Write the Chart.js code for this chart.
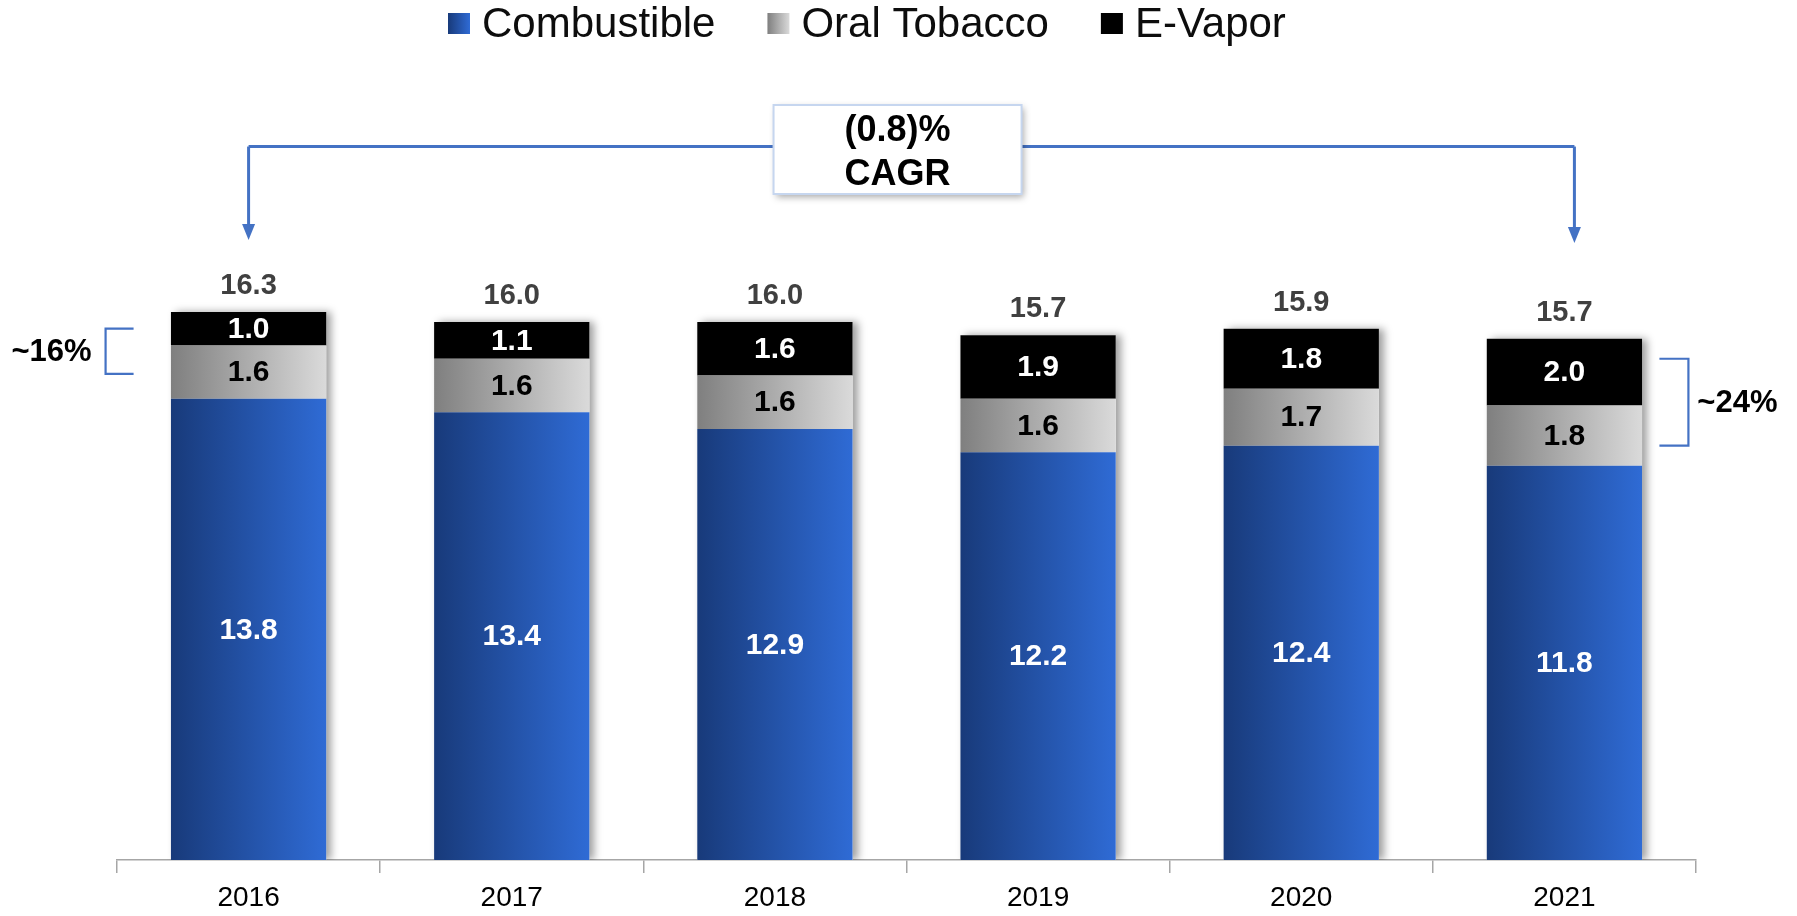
<!DOCTYPE html>
<html>
<head>
<meta charset="utf-8">
<script src="https://cdn.jsdelivr.net/npm/chart.js@4.4.0/dist/chart.umd.min.js"></script>
<style>
  html, body { margin: 0; padding: 0; background: #fff; }
  #wrap { width: 1797px; height: 916px; }
</style>
</head>
<body>
<div id="wrap"><canvas id="shipments"></canvas></div>
<script>
// volumes by year, billions
const years = ['2016', '2017', '2018', '2019', '2020', '2021'];
const combustible = [13.8, 13.4, 12.9, 12.2, 12.4, 11.8];
const oralTobacco = [1.6, 1.6, 1.6, 1.6, 1.7, 1.8];
const eVapor = [1.0, 1.1, 1.6, 1.9, 1.8, 2.0];
const totals = [16.3, 16.0, 16.0, 15.7, 15.9, 15.7];
const seriesNames = ['Combustible', 'Oral Tobacco', 'E-Vapor'];
const cagrText = ['(0.8)%', 'CAGR'];
const shareLabels = ['~16%', '~24%'];

const FONT = "'Liberation Sans', Arial, Helvetica, sans-serif";
const LINE_BLUE = '#4472c4';
const BAR_PCT = 0.59;

const blueStops = [[0, '#183a7a'], [1, '#2f6bd5']];
const greyStops = [[0, '#7f7f7f'], [1, '#dadada']];
const blackStops = [[0, '#000000'], [1, '#000000']];

function hGradient(ctx, left, right, stops) {
  const g = ctx.createLinearGradient(left, 0, right, 0);
  stops.forEach(([o, c]) => g.addColorStop(o, c));
  return g;
}

// gradient running across each bar, left to right
function barFill(stops) {
  return (c) => {
    const x = c.chart.scales.x;
    if (!x || c.dataIndex === undefined) return stops[1][1];
    const cx = x.getPixelForValue(c.dataIndex);
    const half = x.width / years.length * BAR_PCT / 2;
    if (!Number.isFinite(cx) || !Number.isFinite(half) || half <= 0) return stops[1][1];
    return hGradient(c.chart.ctx, cx - half, cx + half, stops);
  };
}

// soft shadow behind every full stack
const barShadow = {
  id: 'barShadow',
  beforeDatasetsDraw(chart) {
    const {ctx, chartArea} = chart;
    const first = chart.getDatasetMeta(0).data;
    const last = chart.getDatasetMeta(chart.data.datasets.length - 1).data;
    ctx.save();
    ctx.beginPath();
    ctx.rect(0, 0, chart.width, chartArea.bottom);
    ctx.clip();
    ctx.shadowColor = 'rgba(0,0,0,0.38)';
    ctx.shadowBlur = 8;
    ctx.shadowOffsetX = 5;
    ctx.shadowOffsetY = 0;
    ctx.fillStyle = '#fff';
    first.forEach((bar, i) => {
      const w = bar.width;
      ctx.fillRect(bar.x - w / 2, last[i].y, w, bar.base - last[i].y);
    });
    ctx.restore();
  }
};

// numbers inside segments and totals on top
const valueLabels = {
  id: 'valueLabels',
  afterDatasetsDraw(chart) {
    const ctx = chart.ctx;
    ctx.save();
    ctx.textAlign = 'center';
    ctx.textBaseline = 'middle';
    ctx.font = `bold 30px ${FONT}`;
    chart.data.datasets.forEach((ds, di) => {
      chart.getDatasetMeta(di).data.forEach((bar, i) => {
        const {x, y, base} = bar.getProps(['x', 'y', 'base'], true);
        ctx.fillStyle = ds.labelColor;
        ctx.fillText(ds.data[i].toFixed(1), x, (y + base) / 2 + 1);
      });
    });
    const top = chart.getDatasetMeta(chart.data.datasets.length - 1).data;
    ctx.font = `bold 29px ${FONT}`;
    ctx.fillStyle = '#404040';
    top.forEach((bar, i) => ctx.fillText(totals[i].toFixed(1), bar.x, bar.y - 26));
    ctx.restore();
  }
};

// legend row across the top
const legendRow = {
  id: 'legendRow',
  afterDraw(chart) {
    const ctx = chart.ctx;
    ctx.save();
    ctx.font = `42px ${FONT}`;
    ctx.textBaseline = 'alphabetic';
    ctx.textAlign = 'left';
    let x = 448;
    chart.data.datasets.forEach((ds) => {
      ctx.fillStyle = hGradient(ctx, x, x + 22, ds.swatch);
      ctx.fillRect(x, 13, 22, 21);
      ctx.fillStyle = '#0d0d0d';
      ctx.fillText(ds.label, x + 34, 37);
      x += 34 + ctx.measureText(ds.label).width + 52;
    });
    ctx.restore();
  }
};

function arrowDown(ctx, x, y0, y1) {
  ctx.beginPath();
  ctx.moveTo(x, y0);
  ctx.lineTo(x, y1 - 14);
  ctx.stroke();
  ctx.beginPath();
  ctx.moveTo(x - 6.5, y1 - 16);
  ctx.lineTo(x + 6.5, y1 - 16);
  ctx.lineTo(x, y1);
  ctx.closePath();
  ctx.fill();
}

// CAGR connector and share brackets
const callouts = {
  id: 'callouts',
  afterDraw(chart) {
    const {ctx} = chart;
    const xs = chart.scales.x, ys = chart.scales.y;
    const lineY = ys.getPixelForValue(21.35);
    const tipY = ys.getPixelForValue(18.55);
    const xL = xs.getPixelForValue(0);
    const xR = xs.getPixelForValue(years.length - 1) + 10;

    ctx.save();
    ctx.strokeStyle = LINE_BLUE;
    ctx.fillStyle = LINE_BLUE;
    ctx.lineWidth = 3;
    ctx.beginPath();
    ctx.moveTo(xL, lineY);
    ctx.lineTo(xR, lineY);
    ctx.stroke();
    arrowDown(ctx, xL, lineY, tipY);
    arrowDown(ctx, xR, lineY, tipY + 3);

    // CAGR box
    const bx = xs.getPixelForValue(2.466);
    const bw = 248, bh = 89, by = 105;
    ctx.save();
    ctx.shadowColor = 'rgba(0,0,0,0.35)';
    ctx.shadowBlur = 7;
    ctx.shadowOffsetX = 2;
    ctx.shadowOffsetY = 3;
    ctx.fillStyle = '#fff';
    ctx.fillRect(bx - bw / 2, by, bw, bh);
    ctx.restore();
    ctx.strokeStyle = '#c6d6ef';
    ctx.lineWidth = 2;
    ctx.strokeRect(bx - bw / 2, by, bw, bh);
    ctx.fillStyle = '#000';
    ctx.textAlign = 'center';
    ctx.textBaseline = 'middle';
    ctx.font = `bold 36px ${FONT}`;
    ctx.fillText(cagrText[0], bx, by + 26);
    ctx.fillText(cagrText[1], bx, by + 70);

    // brackets
    ctx.strokeStyle = LINE_BLUE;
    ctx.lineWidth = 2.2;
    const lt = ys.getPixelForValue(15.9), lb = ys.getPixelForValue(14.55);
    const lx = xs.getPixelForValue(0) - 143;
    ctx.beginPath();
    ctx.moveTo(lx + 28, lt);
    ctx.lineTo(lx, lt);
    ctx.lineTo(lx, lb);
    ctx.lineTo(lx + 28, lb);
    ctx.stroke();
    const rt = ys.getPixelForValue(15.0), rb = ys.getPixelForValue(12.4);
    const rx = xs.getPixelForValue(years.length - 1) + 124;
    ctx.beginPath();
    ctx.moveTo(rx - 29, rt);
    ctx.lineTo(rx, rt);
    ctx.lineTo(rx, rb);
    ctx.lineTo(rx - 29, rb);
    ctx.stroke();

    ctx.font = `bold 31px ${FONT}`;
    ctx.fillStyle = '#000';
    ctx.fillText(shareLabels[0], lx - 54, (lt + lb) / 2 + 1);
    ctx.fillText(shareLabels[1], rx + 49, (rt + rb) / 2 + 1);
    ctx.restore();
  }
};

new Chart(document.getElementById('shipments'), {
  type: 'bar',
  data: {
    labels: years,
    datasets: [
      { label: seriesNames[0], data: combustible, backgroundColor: barFill(blueStops), swatch: blueStops, labelColor: '#ffffff' },
      { label: seriesNames[1], data: oralTobacco, backgroundColor: barFill(greyStops), swatch: greyStops, labelColor: '#000000' },
      { label: seriesNames[2], data: eVapor, backgroundColor: '#000000', swatch: blackStops, labelColor: '#ffffff' }
    ]
  },
  options: {
    responsive: true,
    maintainAspectRatio: false,
    animation: false,
    categoryPercentage: 1,
    barPercentage: BAR_PCT,
    layout: { padding: { top: 58, left: 117, right: 101, bottom: 0 } },
    plugins: {
      legend: { display: false },
      tooltip: { enabled: false }
    },
    scales: {
      x: {
        stacked: true,
        border: { display: true, color: '#a6a6a6', width: 1.5 },
        grid: { offset: true, drawOnChartArea: false, drawTicks: true, tickLength: 13, color: '#a6a6a6', lineWidth: 1.5 },
        ticks: { color: '#000', padding: 8, font: { family: FONT, size: 28 } },
        afterFit: (s) => { s.height = 56; }
      },
      y: {
        stacked: true,
        display: false,
        min: 0,
        max: 24
      }
    }
  },
  plugins: [barShadow, valueLabels, legendRow, callouts]
});
</script>
</body>
</html>
